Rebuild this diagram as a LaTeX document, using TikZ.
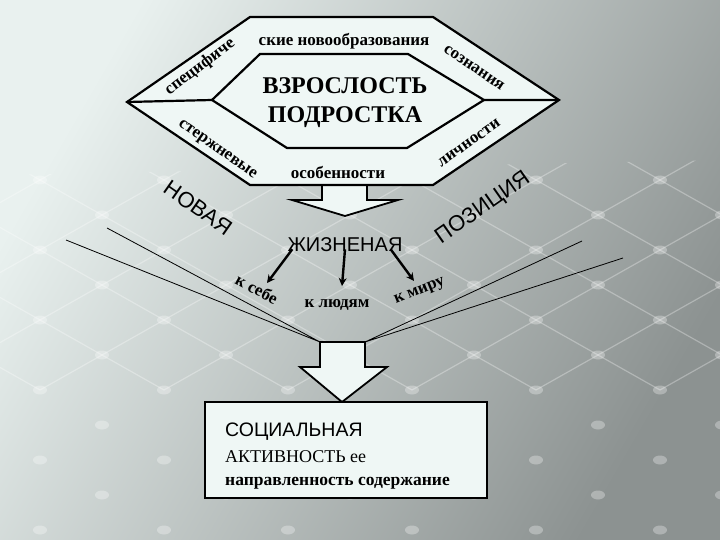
\documentclass[tikz,border=0pt]{standalone}
\usepackage{fontspec}
\setmainfont{Liberation Serif}
\setsansfont{Liberation Sans}
\usetikzlibrary{positioning,arrows.meta}
\definecolor{panel}{HTML}{EFF7F5}
\definecolor{bglight}{HTML}{E9F1EF}
\definecolor{bgdark}{HTML}{8C9291}

\begin{document}
\begin{tikzpicture}[x=1pt,y=-1pt,
   frame/.style={draw,line width=2.2pt,fill=panel,line join=miter},
   blockarrow/.style={draw,line width=1.8pt,fill=panel,line join=miter},
   lbl/.style={font=\bfseries\fontsize{17}{17}\selectfont,inner sep=0pt},
   title/.style={font=\bfseries\fontsize{24}{29}\selectfont,inner sep=0pt,align=center},
   caps/.style={font=\sffamily\fontsize{22}{22}\selectfont,inner sep=0pt},
   boxtext/.style={font=\fontsize{18}{18}\selectfont,inner sep=0pt,anchor=west},
   pointer/.style={-{Stealth[length=8pt,width=8pt]},line width=2.4pt},
   funnel/.style={line width=0.8pt},
   gridline/.style={white,opacity=0.3,line width=1.2pt},
   knot/.style={white,opacity=0.3}]
\useasboundingbox (0,0) rectangle (720,540);
\shade[top color=bglight,bottom color=bgdark,shading angle=60] (0,0) rectangle (720,540);
% background lattice
\begin{scope}
\clip (0,175) -- (720,160) -- (720,540) -- (0,540) -- cycle;
\foreach \n in {-8,...,14}{
  \draw[gridline] ({124*\n+40},40) ++(-620,-350) -- ++(1240,700);
  \draw[gridline] ({124*\n+40},40) ++(-620,350) -- ++(1240,-700);
}
\foreach \p in {-1,...,12}
  \foreach \q in {-1,...,15}{
    \pgfmathtruncatemacro{\odd}{mod(\p+\q+20,2)}
    \ifnum\odd=0 \fill[knot] ({40+62*\p},{40+35*\q}) ellipse (7pt and 4.5pt); \fi
  }
\end{scope}

\coordinate (ol) at (127,102);
\coordinate (il) at (212,100);
\coordinate (ir) at (484,100);
\coordinate (or) at (559,100);

% upper block arrow
\draw[blockarrow] (322,184) -- (322,200) -- (292,200) -- (345,216) -- (398,200) -- (367,200) -- (367,184);
\draw[frame] (ol) -- (250,17) -- (433,17) -- (or) -- (433,185) -- (250,185) -- cycle;
\draw[frame] (il) -- (260,54) -- (408,54) -- (ir) -- (407,148) -- (287,148) -- cycle;
\draw[line width=2.2pt] (ol) -- (il) (ir) -- (or);

\node[lbl] (top) at (344,41) {ские новообразования};
\node[lbl,rotate=37] (spec) at (200,67) {специфиче};
\node[lbl,rotate=-34] (soz) at (474,68) {сознания};
\node[title] (adult) at (345,103) {ВЗРОСЛОСТЬ\\ПОДРОСТКА};
\node[lbl,rotate=-35] (core) at (217,150) {стержневые};
\node[lbl] (feat) at (338,172) {особенности};
\node[lbl,rotate=35] (pers) at (469,143) {личности};

\node[caps,rotate=-35] (new) at (198,208) {НОВАЯ};
\node[caps,rotate=35] (pos) at (483,208) {ПОЗИЦИЯ};
\node[font=\sffamily\fontsize{20}{20}\selectfont,inner sep=0pt] (life) at (345,245) {ЖИЗНЕНАЯ};

\node[lbl,rotate=-28] (self) at (257,289) {к себе};
\node[lbl] (people) at (337,305) {к людям};
\node[lbl,rotate=22] (world) at (420,292) {к миру};

\coordinate (toself) at (267,283);
\coordinate (topeople) at (342,286);
\coordinate (toworld) at (414,281);
\draw[pointer] ([xshift=5pt,yshift=3pt]life.south west) -- (toself);
\draw[pointer] ([yshift=3pt]life.south) -- (topeople);
\draw[pointer] ([xshift=-12pt,yshift=3pt]life.south east) -- (toworld);

% lower block arrow and box
\coordinate (sl) at (320,342);
\coordinate (sr) at (365,342);
\draw[blockarrow] (sl) -- (320,367) -- (300,367) -- (342,402) -- (387,367) -- (365,367) -- (sr) -- cycle;
\coordinate (f1) at (107,228);
\coordinate (f2) at (66,240);
\coordinate (f3) at (582,241);
\coordinate (f4) at (623,258);
\draw[funnel] (f1) -- (sl) (f2) -- (sl) (f3) -- (sr) (f4) -- (sr);

\node[draw,line width=1.8pt,fill=panel,minimum width=282pt,minimum height=96pt] (box) at (346,450) {};
\node[boxtext,font=\sffamily\fontsize{19.5}{19.5}\selectfont] (soc) at (225,432) {СОЦИАЛЬНАЯ};
\node[boxtext] (act) at (225,457) {АКТИВНОСТЬ ее};
\node[boxtext,font=\bfseries\fontsize{17.5}{17.5}\selectfont] (dir) at (225,483) {направленность содержание};
\end{tikzpicture}
\end{document}
